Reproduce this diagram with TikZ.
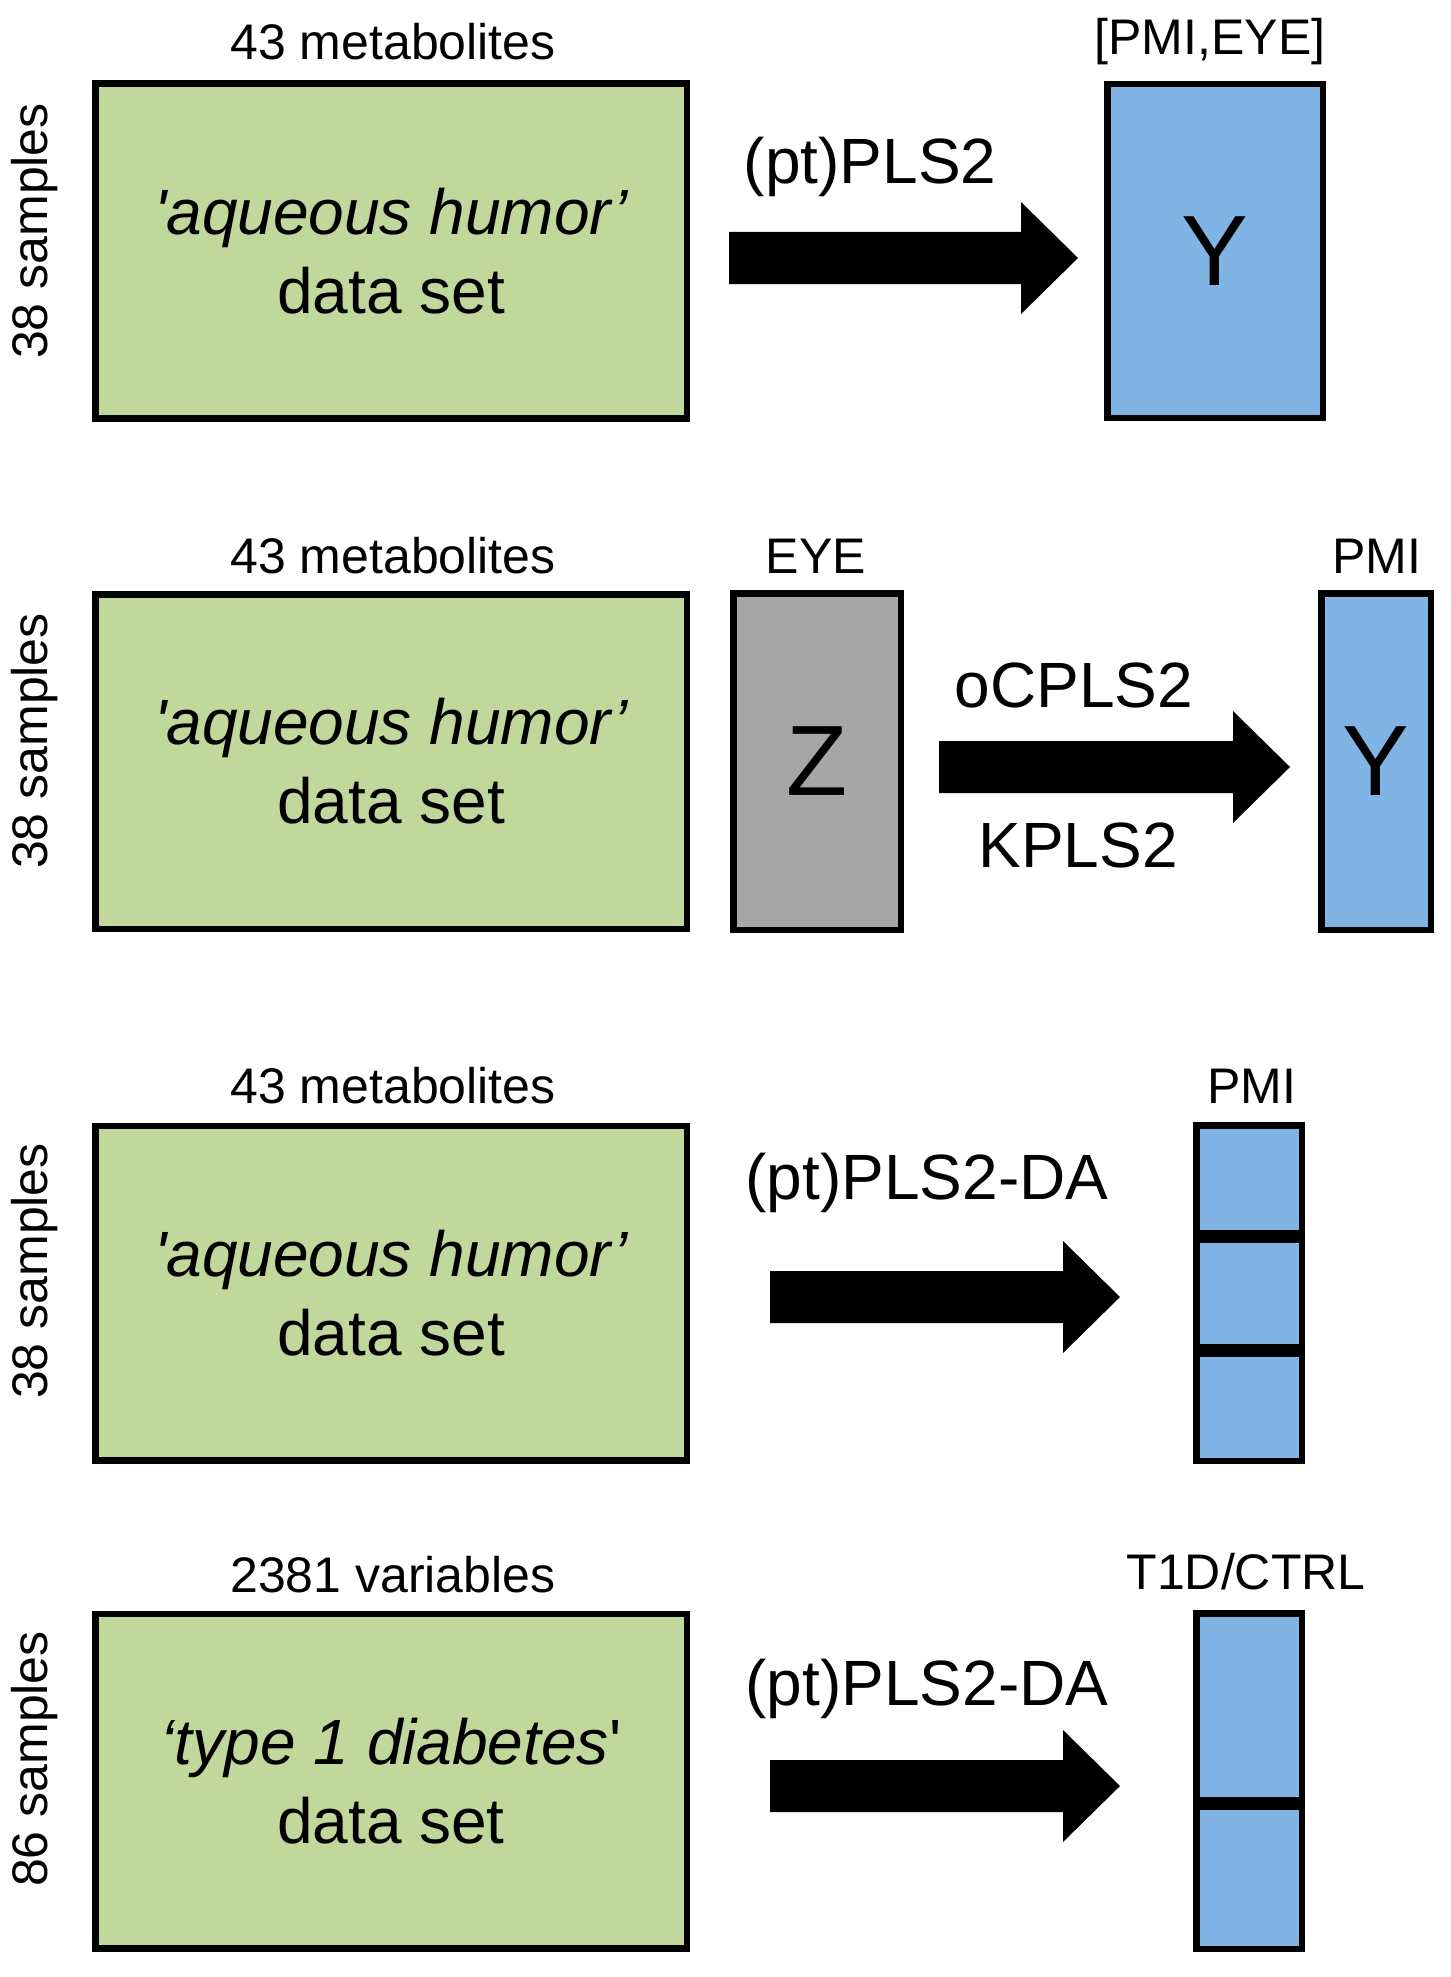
\documentclass[tikz,border=0pt]{standalone}
\usepackage{fontspec}
\newfontfamily\arialf{Liberation Sans}
\definecolor{boxgreen}{HTML}{C0D89B}
\definecolor{boxblue}{HTML}{7FB4E4}
\definecolor{boxgray}{HTML}{A6A6A6}
\newcommand\fatarrow[4]{% start x, head base x, tip x, centre y
  \fill[black] (#1,#4-26) -- (#2,#4-26) -- (#2,#4-56) -- (#3,#4) -- (#2,#4+56) -- (#2,#4+26) -- (#1,#4+26) -- cycle;}
\tikzset{
  mat/.style={draw=black, line width=6.5pt, inner sep=0pt, font=\arialf},
  greenmat/.style={mat, fill=boxgreen, minimum width=591.5pt, minimum height=334.5pt,
     align=center, font=\arialf\fontsize{64}{79}\selectfont},
  bluemat/.style={mat, fill=boxblue},
  graymat/.style={mat, fill=boxgray},
  smalllab/.style={font=\arialf\fontsize{50}{60}\selectfont, inner sep=0pt},
  methlab/.style={font=\arialf\fontsize{64}{76}\selectfont, inner sep=0pt},
  biglet/.style={font=\arialf\fontsize{100}{110}\selectfont},
}
\begin{document}
\begin{tikzpicture}[x=1pt,y=-1pt]
\useasboundingbox[fill=white] (0,0) rectangle (1450,1977);

% ---------- panel 1 ----------
\node[greenmat] (g1) at (391,251) {\itshape 'aqueous humor’\\data set};
\node[smalllab] (m1) at (393,42) {43 metabolites};
\node[smalllab, rotate=90] (s1) at (35,231) {38 samples};
\fatarrow{729}{1021}{1078}{258}
\node[methlab] (a1) at (870,167) {(pt)PLS2};
\node[bluemat, minimum width=215.5pt, minimum height=333.5pt] (y1) at (1215,251) {};
\node[biglet] (y1t) at (y1) {Y};
\node[smalllab] (l1) at (1210,42) {[PMI,EYE]};

% ---------- panel 2 ----------
\node[greenmat] (g2) at (391,761.5) {\itshape 'aqueous humor’\\data set};
\node[smalllab] (m2) at (393,556) {43 metabolites};
\node[smalllab, rotate=90] (s2) at (35,741) {38 samples};
\node[graymat, minimum width=167.5pt, minimum height=336.5pt] (z2) at (817,761.5) {};
\node[biglet] (z2t) at (z2) {Z};
\node[smalllab] (e2) at (816,556) {EYE};
\fatarrow{939}{1233}{1290}{767}
\node[methlab] (a2) at (1074,685) {oCPLS2};
\node[methlab] (b2) at (1078,845) {KPLS2};
\node[bluemat, minimum width=109.5pt, minimum height=336.5pt] (y2) at (1376,761.5) {};
\node[biglet] (y2t) at (y2) {Y};
\node[smalllab] (p2) at (1377,556) {PMI};

% ---------- panel 3 ----------
\node[greenmat] (g3) at (391,1293) {\itshape 'aqueous humor’\\data set};
\node[smalllab] (m3) at (393,1086) {43 metabolites};
\node[smalllab, rotate=90] (s3) at (35,1271) {38 samples};
\fatarrow{770}{1063}{1120}{1297}
\node[methlab] (a3) at (927,1183) {(pt)PLS2-DA};
\node[bluemat, minimum width=105.5pt, minimum height=107.5pt] (c31) at (1249,1179) {};
\node[bluemat, minimum width=105.5pt, minimum height=107.5pt] (c32) at (1249,1293) {};
\node[bluemat, minimum width=105.5pt, minimum height=107.5pt] (c33) at (1249,1407) {};
\node[smalllab] (p3) at (1252,1086) {PMI};

% ---------- panel 4 ----------
\node[greenmat] (g4) at (391,1781) {\itshape ‘type 1 diabetes\upshape '\\data set};
\node[smalllab] (m4) at (393,1575) {2381 variables};
\node[smalllab, rotate=90] (s4) at (35,1759) {86 samples};
\fatarrow{770}{1063}{1120}{1786}
\node[methlab] (a4) at (927,1689) {(pt)PLS2-DA};
\node[bluemat, minimum width=105.5pt, minimum height=186.5pt] (c41) at (1249,1706.5) {};
\node[bluemat, minimum width=105.5pt, minimum height=142.5pt] (c42) at (1249,1877.5) {};
\node[smalllab] (p4) at (1246,1572) {T1D/CTRL};
\end{tikzpicture}
\end{document}
